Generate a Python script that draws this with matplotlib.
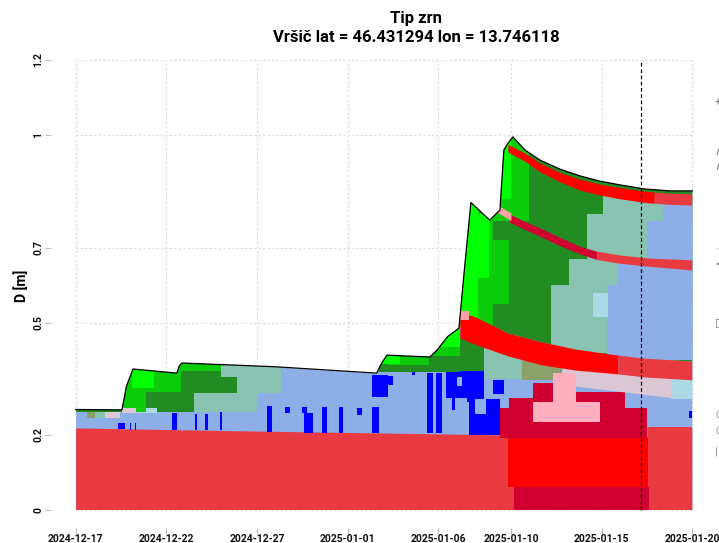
import numpy as np
import matplotlib.pyplot as plt
from matplotlib.patches import Polygon, Rectangle

plt.rcParams['font.family'] = ['Roboto', 'DejaVu Sans']

START = np.datetime64('2024-12-17T00', 'h')


def dan(s):
    # dni od zacetka sezone
    return (np.datetime64(s, 'h') - START).astype(float) / 24.0


tick_dates = ['2024-12-17', '2024-12-22', '2024-12-27', '2025-01-01',
              '2025-01-06', '2025-01-10', '2025-01-15', '2025-01-20']
tick_days = [dan(s) for s in tick_dates]
y_ticks = [0, 0.2, 0.5, 0.7, 1, 1.2]
y_labels = ['0', '0.2', '0.5', '0.7', '1', '1.2']
profile_day = dan('2025-01-17T04')

# visina snezne odeje (povrsina)
surf_t = [0, 2.55, 2.8, 3.16, 5.58, 5.72, 5.86, 11.0, 16.6, 16.85, 17.16, 19.53, 19.9,
          20.5, 21.13, 21.45, 21.79, 22.83, 23.39, 23.61, 23.83, 24.11, 24.77, 25.6,
          26.7, 27.8, 28.9, 30.0, 31.38, 32.76, 34.0]
surf_h = [0.268, 0.267, 0.33, 0.376, 0.365, 0.385, 0.392, 0.382, 0.365, 0.39, 0.413,
          0.408, 0.425, 0.462, 0.485, 0.65, 0.82, 0.773, 0.80, 0.96, 0.978, 0.995,
          0.96, 0.933, 0.909, 0.891, 0.877, 0.867, 0.856, 0.851, 0.851]

# stara podlaga (talilne oblike)
base_t = [0, 8, 16, 23.9, 31.5, 31.5, 34]
base_h = [0.219, 0.212, 0.206, 0.200, 0.198, 0.221, 0.221]

# skorja pod novim snegom
crust_t = [21.18, 21.95, 23.83, 25.7, 27.58, 29.45, 29.9, 31.32, 34.0]
crust_top = [0.525, 0.517, 0.472, 0.448, 0.429, 0.416, 0.413, 0.405, 0.397]
crust_bot = [0.459, 0.443, 0.411, 0.387, 0.373, 0.365, 0.363, 0.355, 0.347]
crust_melt = 29.9

# tanka skorja v novem snegu
thin_t = [23.9, 24.6, 25.6, 26.7, 27.8, 28.74, 30.0, 31.6, 34.0]
thin_top = [0.79, 0.773, 0.752, 0.727, 0.703, 0.69, 0.68, 0.672, 0.667]
thin_bot = [0.768, 0.752, 0.73, 0.705, 0.683, 0.668, 0.658, 0.65, 0.64]
thin_melt = 28.74
rose_t = [23.2, 24.0]
rose_top = [0.815, 0.792]
rose_bot = [0.795, 0.772]

# skorja tik pod povrsino
top_t = [23.83, 24.77, 25.6, 26.7, 27.8, 28.9, 30.0, 31.38, 31.9, 32.76, 34.0]
top_top = [0.975, 0.952, 0.925, 0.900, 0.882, 0.869, 0.860, 0.850, 0.848, 0.845, 0.843]
top_bot = [0.955, 0.930, 0.902, 0.875, 0.853, 0.840, 0.830, 0.820, 0.818, 0.815, 0.813]
top_melt = 31.9

pale_t = [26.8, 32.8]
pale_top = [0.378, 0.353]
pale_bot = [0.335, 0.300]

# pravokotni deli profila: (t0, t1, h0, h1)
forest_boxes = [(0, 2.6, 0.262, 0.30), (2.55, 8.9, 0.262, 0.45),
                (16.7, 21.2, 0.368, 0.6), (20.1, 22.5, 0.371, 0.46)]
seafoam_boxes = [(1.07, 1.6, 0.245, 0.261), (6.5, 10.0, 0.262, 0.312),
                 (8.9, 11.3, 0.312, 0.45), (8.0, 8.9, 0.355, 0.45),
                 (22.5, 24.6, 0.35, 0.44), (26.2, 29.3, 0.42, 0.60),
                 (27.2, 29.9, 0.60, 0.67), (28.2, 31.5, 0.66, 0.79),
                 (29.1, 31.5, 0.79, 0.84), (31.5, 32.4, 0.77, 0.84),
                 (32.4, 34.1, 0.815, 0.84)]
corn_boxes = [(31.5, 34.1, 0.64, 0.77), (32.4, 34.1, 0.77, 0.815),
              (29.3, 34.1, 0.40, 0.60), (29.9, 34.1, 0.60, 0.67)]
lblue_boxes = [(3.3, 4.5, 0.259, 0.272), (28.5, 29.35, 0.515, 0.58),
               (32.8, 34.1, 0.296, 0.352)]
midg_boxes = [(2.55, 3.9, 0.262, 0.45), (3.9, 5.8, 0.315, 0.45), (5.8, 8.0, 0.37, 0.45),
              (17.2, 19.5, 0.388, 0.6), (19.5, 21.2, 0.41, 0.6),
              (21.6, 23.0, 0.47, 0.75), (22.0, 23.0, 0.75, 0.8),
              (22.6, 25.0, 0.77, 1.0), (23.0, 23.9, 0.55, 0.72)]
lime_boxes = [(3.1, 4.3, 0.325, 0.45), (16.9, 17.9, 0.39, 0.6), (20.1, 21.2, 0.435, 0.6),
              (21.1, 22.2, 0.49, 0.85), (22.2, 22.8, 0.62, 0.79),
              (23.4, 24.0, 0.83, 1.0)]
olive_boxes = [(0.62, 1.07, 0.245, 0.261), (24.6, 26.8, 0.347, 0.397)]
pale_boxes = [(1.6, 2.45, 0.245, 0.261), (2.55, 3.3, 0.259, 0.272)]
pink_boxes = [(25.2, 28.9, 0.235, 0.288), (26.3, 27.6, 0.288, 0.365)]
crimson_boxes = [(24.16, 31.6, 0.0, 0.061), (23.4, 31.5, 0.192, 0.272),
                 (23.9, 30.3, 0.272, 0.30), (25.2, 26.3, 0.30, 0.339),
                 (27.6, 30.3, 0.30, 0.315)]
red_boxes = [(23.83, 31.55, 0.061, 0.192)]
rose_boxes = [(21.15, 21.7, 0.508, 0.53)]
blue_boxes = [(2.33, 2.72, 0.216, 0.232), (2.97, 3.05, 0.213, 0.232),
              (3.25, 3.33, 0.213, 0.232), (5.31, 5.58, 0.213, 0.259),
              (6.57, 6.70, 0.213, 0.256), (7.13, 7.29, 0.213, 0.256),
              (7.95, 8.05, 0.213, 0.262), (10.55, 10.82, 0.208, 0.277),
              (11.54, 11.81, 0.259, 0.275), (12.47, 12.75, 0.259, 0.275),
              (12.58, 13.08, 0.205, 0.259), (13.57, 13.85, 0.205, 0.275),
              (14.50, 14.73, 0.205, 0.275), (15.50, 15.78, 0.253, 0.272),
              (16.33, 16.72, 0.205, 0.275), (16.33, 17.20, 0.301, 0.360),
              (17.20, 17.50, 0.333, 0.357), (18.54, 18.70, 0.360, 0.368),
              (19.37, 19.70, 0.205, 0.365), (19.85, 20.20, 0.205, 0.365),
              (20.40, 21.20, 0.300, 0.373), (20.75, 20.90, 0.267, 0.300),
              (20.50, 21.60, 0.300, 0.371), (21.60, 22.50, 0.288, 0.371),
              (21.70, 23.40, 0.200, 0.296), (23.00, 23.60, 0.309, 0.347),
              (33.45, 34.00, 0.300, 0.325), (33.80, 34.00, 0.245, 0.265)]
corn_gaps = [(21.0, 21.3, 0.330, 0.355), (22.0, 22.6, 0.255, 0.296),
             (19.72, 19.83, 0.205, 0.36)]

# barve tipov zrn
MF = '#E83A40'
RED = '#FF0000'
CRIMSON = '#D00030'
ROSE = '#FF9FA8'
PINK = '#FFB0C0'
PALE = '#DCC8D4'
LBLUE = '#ADD8E6'
BLUE = '#0000FF'
CORN = '#8EAEE8'
FOREST = '#228B22'
MIDG = '#0BCB0B'
LIME = '#00FF00'
SEAFOAM = '#89C4B3'
OLIVE = '#8BA06B'

fig = plt.figure(figsize=(7.19, 5.43), dpi=100)
ax = fig.add_axes([51 / 719, 15 / 543, 666 / 719, 486 / 543])
ax.set_xlim(-1.36, 35.36)
ax.set_ylim(-0.048, 1.248)

# mreza
for d in tick_days:
    ax.vlines(d, 0, 1.2, color='#DADADA', lw=0.8, ls=(0, (2, 2)), zorder=0)
for h in y_ticks:
    ax.hlines(h, 0, 34, color='#DADADA', lw=0.8, ls=(0, (2, 2)), zorder=0)

snow = Polygon(np.column_stack([surf_t + [34, 0], surf_h + [0, 0]]), closed=True,
               transform=ax.transData, fc='none', ec='none')
ax.add_patch(snow)


def box(lst, c):
    for t0, t1, h0, h1 in lst:
        r = ax.add_patch(Rectangle((t0, h0), t1 - t0, h1 - h0, fc=c, lw=0))
        r.set_clip_path(snow)


def band(t, lo, hi, c, where=None):
    p = ax.fill_between(t, lo, hi, where=where, color=c, lw=0)
    p.set_clip_path(snow)


band(surf_t, 0, surf_h, CORN)
band(base_t, 0, base_h, MF)
box(red_boxes, RED)
box(crimson_boxes, CRIMSON)
box(blue_boxes, BLUE)
box(corn_gaps, CORN)
band(crust_t, crust_top, 1.2, FOREST)
box(forest_boxes, FOREST)
box(seafoam_boxes, SEAFOAM)
box(corn_boxes, CORN)
box(lblue_boxes, LBLUE)
box(midg_boxes, MIDG)
box(lime_boxes, LIME)
box(olive_boxes, OLIVE)
band(pale_t, pale_bot, pale_top, PALE)
box(pale_boxes, PALE)
box(pink_boxes, PINK)

tt = np.array(thin_t)
band(thin_t, thin_bot, thin_top, CRIMSON, where=tt <= thin_melt)
band(thin_t, thin_bot, thin_top, MF, where=tt >= thin_melt)
band(rose_t, rose_bot, rose_top, ROSE)
tp = np.array(top_t)
band(top_t, top_bot, top_top, RED, where=tp <= top_melt)
band(top_t, top_bot, top_top, MF, where=tp >= top_melt)
ct = np.array(crust_t)
band(crust_t, crust_bot, crust_top, RED, where=ct <= crust_melt)
band(crust_t, crust_bot, crust_top, MF, where=ct >= crust_melt)
box(rose_boxes, ROSE)

ax.plot(surf_t, surf_h, color='k', lw=0.9)
ax.vlines(profile_day, 0, 1.2, color='k', lw=0.9, ls=(0, (3, 2)))

for s in ax.spines.values():
    s.set_visible(False)
ax.set_xticks(tick_days)
ax.set_xticklabels(tick_dates)
ax.set_yticks(y_ticks)
ax.set_yticklabels(y_labels, rotation=90, va='center')
ax.tick_params(length=4, width=0.8, color='#BBBBBB', labelsize=7.5, pad=1.5,
               labelcolor='#111111')
ax.tick_params(axis='x', pad=0.5)
for lbl in ax.get_xticklabels() + ax.get_yticklabels():
    lbl.set_fontweight('bold')

fig.text(22 / 719, 1 - 286 / 543, 'D [m]', rotation=90, ha='center', va='center',
         fontsize=10, fontweight='bold')
fig.text(416 / 719, 1 - 18 / 543, 'Tip zrn', ha='center', va='center',
         fontsize=12, fontweight='bold')
fig.text(416 / 719, 1 - 38 / 543, 'Vršič lat = 46.431294 lon = 13.746118',
         ha='center', va='center', fontsize=12, fontweight='bold')

# odrezana legenda na desnem robu
legend_marks = ['+', '∧', '∧', '·', '•', '□', '○', '○', '|']
legend_y = [103, 152, 167, 249, 265, 322, 413, 429, 452]
for m, y in zip(legend_marks, legend_y):
    fig.text(715 / 719, 1 - y / 543, m, ha='left', va='center', fontsize=8,
             color='#777777')

fig.savefig('out.png', dpi=100)
